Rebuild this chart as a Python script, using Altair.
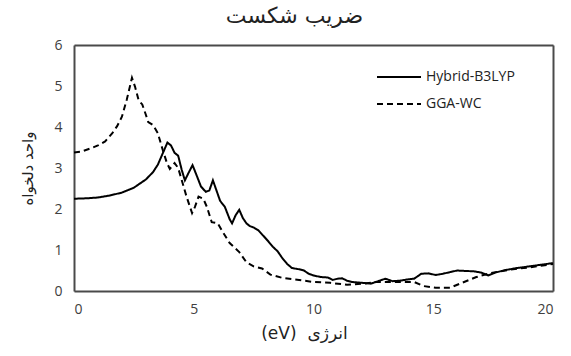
import altair as alt
import pandas as pd

# Hybrid-B3LYP (solid)
hyb_x = [0, 0.5, 1.0, 1.5, 2.0, 2.5, 3.0, 3.3, 3.5, 3.7, 3.9, 4.05, 4.2, 4.35, 4.5, 4.63, 4.8, 4.95,
         5.1, 5.3, 5.5, 5.65, 5.8, 5.95, 6.1, 6.3, 6.5, 6.6, 6.75, 6.9, 7.05, 7.2, 7.35, 7.5, 7.7,
         7.9, 8.1, 8.3, 8.5, 8.7, 8.9, 9.1, 9.4, 9.6, 9.8, 10.0, 10.3, 10.6, 10.8, 11.0, 11.2, 11.4,
         11.6, 12.0, 12.4, 12.7, 13.0, 13.3, 13.6, 13.9, 14.2, 14.5, 14.8, 15.1, 15.4, 15.7, 16.0,
         16.3, 16.7, 17.0, 17.3, 17.6, 18.0, 18.5, 19.0, 19.5, 20.0]
hyb_y = [2.25, 2.26, 2.28, 2.33, 2.4, 2.52, 2.72, 2.9, 3.08, 3.35, 3.62, 3.55, 3.37, 3.3, 2.95, 2.7,
         2.9, 3.07, 2.85, 2.55, 2.42, 2.45, 2.7, 2.45, 2.2, 2.05, 1.75, 1.65, 1.85, 1.98, 1.78, 1.65,
         1.58, 1.55, 1.48, 1.35, 1.22, 1.08, 0.97, 0.8, 0.66, 0.56, 0.53, 0.5, 0.42, 0.38, 0.34, 0.33,
         0.27, 0.3, 0.31, 0.25, 0.22, 0.2, 0.18, 0.24, 0.3, 0.24, 0.25, 0.28, 0.3, 0.42, 0.43, 0.39,
         0.42, 0.46, 0.5, 0.49, 0.48, 0.45, 0.38, 0.45, 0.51, 0.56, 0.6, 0.64, 0.68]

# GGA-WC (dashed)
gga_x = [0, 0.3, 0.7, 1.0, 1.3, 1.6, 1.8, 2.0, 2.2, 2.42, 2.55, 2.7, 2.85, 3.0, 3.1, 3.3, 3.5, 3.7,
         3.88, 4.0, 4.2, 4.35, 4.5, 4.7, 4.93, 5.05, 5.2, 5.4, 5.55, 5.75, 6.0, 6.2, 6.5, 6.9, 7.2,
         7.5, 7.85, 8.2, 8.7, 9.4, 10.0, 10.7, 11.4, 12.1, 12.6, 13.3, 14.2, 14.6, 15.1, 15.7, 16.2,
         16.8, 17.4, 18.2, 19.2, 20.0]
gga_y = [3.38, 3.4, 3.48, 3.55, 3.65, 3.85, 4.02, 4.25, 4.66, 5.2, 4.98, 4.65, 4.55, 4.3, 4.12, 4.05,
         3.85, 3.45, 3.12, 2.98, 3.12, 3.0, 2.7, 2.3, 1.9, 2.05, 2.3, 2.25, 2.05, 1.68, 1.65, 1.45,
         1.17, 0.95, 0.7, 0.6, 0.55, 0.4, 0.32, 0.27, 0.22, 0.2, 0.15, 0.18, 0.22, 0.22, 0.22, 0.12,
         0.08, 0.08, 0.2, 0.34, 0.44, 0.52, 0.59, 0.66]

series_names = ["Hybrid-B3LYP", "GGA-WC"]
x_ticks = [0, 5, 10, 15, 20]
y_ticks = [0, 1, 2, 3, 4, 5, 6]
x_domain = [0, 20]
y_domain = [0, 6]

df = pd.concat([
    pd.DataFrame({"x": hyb_x, "y": hyb_y, "s": series_names[0], "o": range(len(hyb_x))}),
    pd.DataFrame({"x": gga_x, "y": gga_y, "s": series_names[1], "o": range(len(gga_x))}),
])

FONT = "Open Sans"
AFONT = "DejaVu Sans"
LBL = "#404040"
FRAME = "#4a4a4a"

xs = alt.Scale(domain=x_domain, nice=False)
ys = alt.Scale(domain=y_domain, nice=False)

lines = alt.Chart(df).mark_line(color="black", strokeWidth=2).encode(
    x=alt.X("x:Q", scale=xs,
            axis=alt.Axis(values=x_ticks, title="(eV)\u00a0\u00a0انرژی", grid=False, ticks=False,
                          domain=True, domainColor=FRAME, domainWidth=2,
                          labelPadding=11, titlePadding=9, labelFontSize=14,
                          titleFontSize=17, labelColor=LBL, titleColor="#222", labelFont=FONT,
                          titleFont=AFONT, titleFontWeight="normal", titleX=230)),
    y=alt.Y("y:Q", scale=ys,
            axis=alt.Axis(values=y_ticks, title="واحد دلخواه", grid=False, ticks=False,
                          domain=True, domainColor=FRAME, domainWidth=2,
                          labelPadding=12, titlePadding=18, labelFontSize=14, titleFontSize=15,
                          labelColor=LBL, titleColor="#222", labelFont=FONT, titleFont=AFONT,
                          titleFontWeight="normal")),
    strokeDash=alt.StrokeDash("s:N", scale=alt.Scale(domain=series_names, range=[[1, 0], [6, 4]]),
                              legend=alt.Legend(title=None, orient="none", legendX=318, legendY=25,
                                                symbolType="M-4,0H4", symbolSize=121,
                                                symbolStrokeWidth=2, symbolStrokeColor="black",
                                                labelFontSize=14, labelFont=FONT, labelColor="#222",
                                                labelOffset=20, rowPadding=13)),
    order="o:Q",
)

frame = alt.Chart(pd.DataFrame({"x": [x_domain[0]], "y": [y_domain[0]]})).mark_point(opacity=0).encode(
    x=alt.X("x:Q", scale=xs,
            axis=alt.Axis(orient="top", labels=False, ticks=False, grid=False, title=None,
                          domain=True, domainColor=FRAME, domainWidth=2)),
    y=alt.Y("y:Q", scale=ys,
            axis=alt.Axis(orient="right", labels=False, ticks=False, grid=False, title=None,
                          domain=True, domainColor=FRAME, domainWidth=2)),
)

chart = alt.layer(lines, frame).resolve_axis(x="independent", y="independent").properties(
    width=479, height=246,
    title=alt.Title("ضریب شکست", fontSize=22, font=AFONT, fontWeight="normal", color="#222",
                    anchor="middle", offset=10, dx=-19),
    padding={"left": 74, "top": 45, "right": 18, "bottom": 65},
    autosize=alt.AutoSizeParams(type="none"),
).configure(
    background="white",
)

chart.save("out.html", embed_options={"renderer": "svg", "actions": False})
